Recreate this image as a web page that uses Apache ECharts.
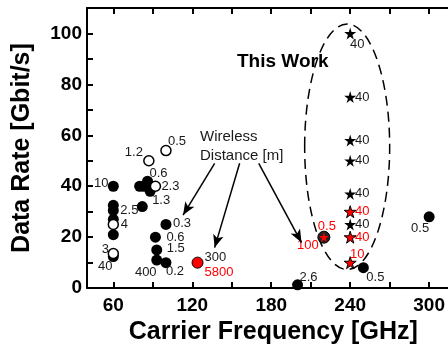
<!DOCTYPE html>
<html>
<head>
<meta charset="utf-8">
<script src="https://cdn.jsdelivr.net/npm/echarts@6/dist/echarts.min.js"></script>
<style>
  html, body { margin: 0; padding: 0; background: #fff; }
  #chart { width: 448px; height: 350px; }
</style>
</head>
<body>
<div id="chart"></div>
<script>
// data
var xTickLabels = [60, 120, 180, 240, 300];
var xTicks = [60, 90, 120, 150, 180, 210, 240, 270, 300];

// filled black circles: other works
var filledX = [60, 60, 60, 60, 60, 60, 86, 80, 83, 88, 82, 100, 92, 93, 93, 100, 200, 250, 300];
var filledY = [40, 32.5, 30.5, 27, 21, 12.4, 42, 40, 40, 38, 32, 25, 20, 15, 11, 10, 1.3, 8, 28];
var filledLbl = ['10', '', '2.5', '', '', '40', '0.6', '', '', '1.3', '', '0.3', '0.6', '1.5', '400', '0.2', '2.6', '0.5', '0.5'];

// open circles
var openX = [60, 60, 87, 100, 92];
var openY = [25, 13.6, 50, 54, 40];
var openLbl = ['4', '3', '1.2', '0.5', '2.3'];

// red circle
var redX = [124];
var redY = [10];
var redLbl = ['300', '5800'];

// circle with red star
var mixX = [220];
var mixY = [20];
var mixLbl = ['100', '0.5'];

// this work: stars
var starX = [240, 240, 240, 240, 240, 240];
var starY = [100, 75, 58, 50, 37, 25];
var starLbl = ['40', '40', '40', '40', '40', '40'];
var redStarX = [240, 240, 240];
var redStarY = [30, 20, 10];
var redStarLbl = ['40', '40', '10'];

// arrows: [fromX, fromY, toX, toY]
var arrows = [
  [137, 49, 113, 28.7],
  [156, 49, 137, 15.9],
  [170.5, 49, 203, 17.9]
];

// ellipse around "This Work" (data units)
var ellCenter = [237.7, 55.5];
var ellRadius = [32.3, 48.2];

// label offsets (px from point centre)
var filledOff = [[-12, -3], null, [16, 0], null, null, [-8, 10], [11, -8], null, null, [11, 9], null,
  [16, -1], [20, 0], [19, -1], [-11, 12], [9, 9], [11, -7], [12, 10], [-9, 12]];
var openOff = [[11, 0], [-8, -4], [-15, -8], [11, -9], [15, 0]];
var starOff = [[7, 11], [12, 0], [12, 0], [12, 0], [12, 0], [12, 0]];
var redStarOff = [[12, 0], [12, 0], [7, -8]];

var FONT = '"Liberation Sans", Arial, sans-serif';
var TXT = '#1a1a1a';
var RED = '#ff0000';
var STAR = 'path://M50,0 L61,35 L98,35 L68,57 L79,91 L50,70 L21,91 L32,57 L2,35 L39,35 Z';

function pts(xs, ys, lbls, offs, color) {
  var out = [];
  for (var i = 0; i < xs.length; i++) {
    var d = { value: [xs[i], ys[i]] };
    if (lbls[i]) {
      d.label = {
        show: true, position: 'inside', formatter: lbls[i],
        offset: offs[i], color: color, fontSize: 13, fontFamily: FONT
      };
    }
    out.push(d);
  }
  return out;
}

var chart = echarts.init(document.getElementById('chart'));

var tickStyle = { color: '#000', width: 2 };
var lineStyle = { color: '#000', width: 2 };

var option = {
  backgroundColor: '#fff',
  animation: false,
  grid: { left: 87, right: 0, top: 6, bottom: 61 },
  xAxis: [
    {
      type: 'value', min: 40, max: 314, position: 'bottom',
      axisLine: { show: true, onZero: false, lineStyle: lineStyle },
      splitLine: { show: false },
      name: 'Carrier Frequency [GHz]', nameLocation: 'middle', nameGap: 31,
      nameTextStyle: { fontSize: 25, fontWeight: 'bold', color: '#000', fontFamily: FONT, padding: [0, 0, 0, 12] },
      axisTick: { show: true, inside: true, length: 6, customValues: xTicks, lineStyle: tickStyle },
      axisLabel: { customValues: xTickLabels, margin: 8, fontSize: 19, fontWeight: 'bold', color: '#000', fontFamily: FONT }
    },
    {
      type: 'value', min: 40, max: 314, position: 'top',
      axisLine: { show: true, onZero: false, lineStyle: lineStyle },
      splitLine: { show: false },
      axisTick: { show: true, inside: true, length: 6, customValues: xTicks, lineStyle: tickStyle },
      axisLabel: { show: true, customValues: xTicks, formatter: function () { return ''; } }
    }
  ],
  yAxis: {
    type: 'value', min: 0, max: 110, interval: 20,
    axisLine: { show: true, onZero: false, lineStyle: lineStyle },
    splitLine: { show: false },
    name: 'Data Rate [Gbit/s]', nameLocation: 'middle', nameGap: 52, nameRotate: 90,
    nameTextStyle: { fontSize: 25, fontWeight: 'bold', color: '#000', fontFamily: FONT },
    axisTick: { show: true, inside: true, length: 6, lineStyle: tickStyle },
    minorTick: { show: true, splitNumber: 2, length: 6, lineStyle: tickStyle },
    axisLabel: { margin: 5, fontSize: 19, fontWeight: 'bold', color: '#000', fontFamily: FONT,
      formatter: function (v) { return v > 100 ? '' : v; } }
  },
  series: [
    {
      type: 'scatter', symbol: 'circle', symbolSize: 11,
      itemStyle: { color: '#000', opacity: 1 },
      data: pts(filledX, filledY, filledLbl, filledOff, TXT),
      markLine: {
        silent: true, symbol: ['none', 'arrow'], symbolSize: [8, 13],
        label: { show: false },
        lineStyle: { color: '#000', width: 1.5, type: 'solid', opacity: 1 },
        data: arrows.map(function (a) {
          return [{ coord: [a[0], a[1]] }, { coord: [a[2], a[3]] }];
        })
      }
    },
    {
      type: 'scatter', symbol: 'circle', symbolSize: 10,
      itemStyle: { color: '#fff', borderColor: '#000', borderWidth: 1.5, opacity: 1 },
      data: pts(openX, openY, openLbl, openOff, TXT)
    },
    {
      type: 'scatter', symbol: 'circle', symbolSize: 11,
      itemStyle: { color: RED, borderColor: '#000', borderWidth: 1, opacity: 1 },
      label: {
        show: true, position: 'right', distance: 1, offset: [0, 2],
        formatter: '{a|' + redLbl[0] + '}\n{b|' + redLbl[1] + '}',
        rich: {
          a: { color: TXT, fontSize: 13, fontFamily: FONT, lineHeight: 15 },
          b: { color: RED, fontSize: 13, fontFamily: FONT, lineHeight: 15 }
        }
      },
      data: redX.map(function (x, i) { return [x, redY[i]]; })
    },
    {
      type: 'scatter', symbol: 'circle', symbolSize: 12,
      itemStyle: { color: '#222', borderColor: '#000', borderWidth: 1, opacity: 1 },
      data: pts(mixX, mixY, [mixLbl[0]], [[-16, 8]], RED)
    },
    {
      type: 'scatter', symbol: STAR, symbolSize: 10,
      itemStyle: { color: RED, opacity: 1 },
      data: pts(mixX, mixY, [mixLbl[1]], [[3, -11]], RED)
    },
    {
      type: 'scatter', symbol: STAR, symbolSize: 12,
      itemStyle: { color: '#000', opacity: 1 },
      data: pts(starX, starY, starLbl, starOff, TXT)
    },
    {
      type: 'scatter', symbol: STAR, symbolSize: 12,
      itemStyle: { color: RED, borderColor: '#000', borderWidth: 1, opacity: 1 },
      data: pts(redStarX, redStarY, redStarLbl, redStarOff, RED)
    }
  ]
};

chart.setOption(option);

// annotations placed through the grid's scales
var c = chart.convertToPixel({ gridIndex: 0 }, ellCenter);
var e = chart.convertToPixel({ gridIndex: 0 }, [ellCenter[0] + ellRadius[0], ellCenter[1] + ellRadius[1]]);
chart.setOption({
  graphic: [
    {
      type: 'ellipse', silent: true, z: 1,
      shape: { cx: c[0], cy: c[1], rx: Math.abs(e[0] - c[0]), ry: Math.abs(c[1] - e[1]) },
      style: { fill: 'none', stroke: '#000', lineWidth: 1.5, lineDash: [10, 6] }
    },
    {
      type: 'text', left: 237, top: 52,
      style: { text: 'This Work', font: 'bold 19px ' + FONT, fill: '#000' }
    },
    {
      type: 'text', left: 200, top: 127,
      style: { text: 'Wireless\nDistance [m]', font: '15px ' + FONT, fill: TXT, align: 'center', lineHeight: 19, width: 86 }
    }
  ]
});
</script>
</body>
</html>
